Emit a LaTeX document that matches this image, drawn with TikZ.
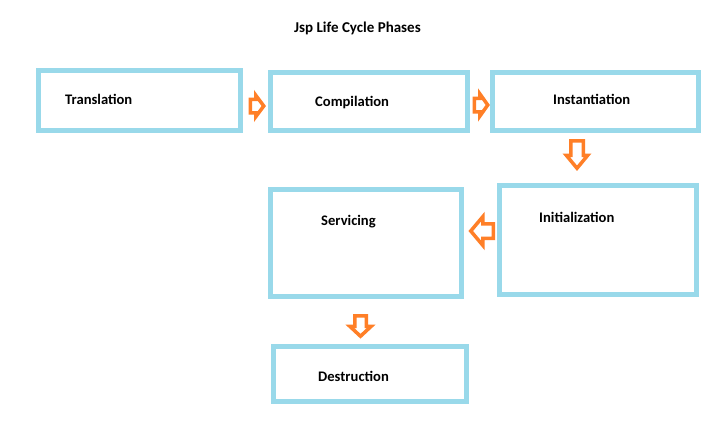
\documentclass[tikz,border=0pt]{standalone}
\usepackage{fontspec}
\setmainfont{Carlito}
\usetikzlibrary{calc}
\definecolor{boxblue}{HTML}{99D9EA}
\definecolor{arrorange}{HTML}{FF7F27}
\tikzset{
  phasebox/.style={draw=boxblue, line width=5pt, fill=white, inner sep=0pt, rectangle},
  phasetext/.style={anchor=base west, inner sep=0pt, font=\fontsize{14.6}{16}\selectfont\bfseries, text=black},
  pics/barrow/.style n args={4}{code={
    % #1 length, #2 head width, #3 shaft width, #4 head length
    \draw[draw=arrorange, fill=white, line width=3.5pt, line join=miter]
      (-#1/2,-#3/2) -- ({#1/2-#4},-#3/2) -- ({#1/2-#4},-#2/2) -- (#1/2,0)
      -- ({#1/2-#4},#2/2) -- ({#1/2-#4},#3/2) -- (-#1/2,#3/2) -- cycle;
  }}
}
\begin{document}
\begin{tikzpicture}[x=1pt,y=-1pt]
\useasboundingbox[fill=white] (0,0) rectangle (719,428);

% title
\node[phasetext, font=\fontsize{15}{17}\selectfont\bfseries] (title) at (294,32.3) {Jsp Life Cycle Phases};

% boxes
\node[phasebox, minimum width=202pt, minimum height=60pt] (trans) at (139.5,100.5) {};
\node[phasebox, minimum width=197pt, minimum height=58pt] (comp) at (369,101.5) {};
\node[phasebox, minimum width=206pt, minimum height=58pt] (inst) at (595.5,101.5) {};
\node[phasebox, minimum width=197pt, minimum height=109pt] (init) at (598,240) {};
\node[phasebox, minimum width=191pt, minimum height=107pt] (serv) at (366,243) {};
\node[phasebox, minimum width=193pt, minimum height=55pt] (dest) at (370,374) {};

% labels
\node[phasetext] (transl) at (65,104) {Translation};
\node[phasetext] (compl) at (315,106.5) {Compilation};
\node[phasetext] (instl) at (553,104.3) {Instantiation};
\node[phasetext] (initl) at (539,222.7) {Initialization};
\node[phasetext] (servl) at (321,225.5) {Servicing};
\node[phasetext] (destl) at (318,381) {Destruction};

% block arrows between phases
\pic at (257,106) {barrow={13.5}{21.5}{13.5}{8}};
\pic at (481,105) {barrow={13.5}{22.5}{13.5}{8}};
\pic[rotate=-90] at (577,154.5) {barrow={27.5}{21.5}{12.5}{13}};
\pic[rotate=180] at (482,231) {barrow={22.5}{28.5}{14.5}{12}};
\pic[rotate=-90] at (360.5,326) {barrow={20.5}{21.5}{11.5}{10}};
\end{tikzpicture}
\end{document}
